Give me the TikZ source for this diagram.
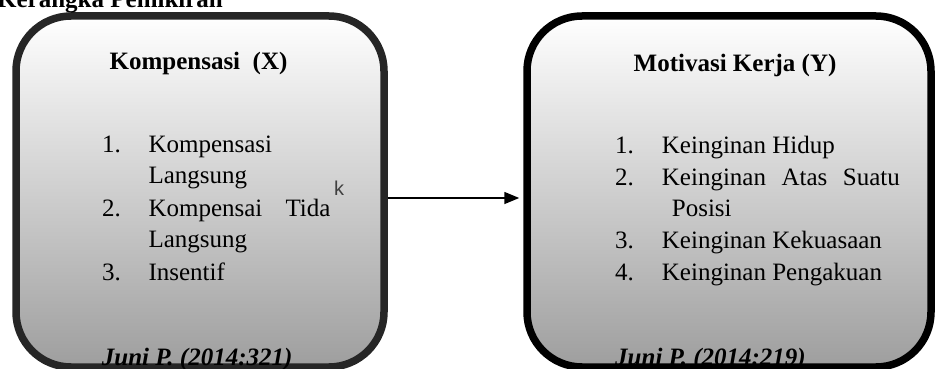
\documentclass[tikz,border=0pt]{standalone}
\usepackage{fontspec}
\setmainfont{Liberation Serif}
\newfontfamily\ksans{Liberation Sans}
\usetikzlibrary{arrows.meta}
\begin{document}
\begin{tikzpicture}[x=1pt,y=-1pt,
  panel/.style={draw=#1, line width=7.5pt, rounded corners=55pt,
    top color=white, bottom color=black!38, minimum height=351pt, inner sep=0pt},
  txt/.style={anchor=base west, inner sep=0pt, font=\fontsize{25}{30}\selectfont},
  ttl/.style={anchor=base, inner sep=0pt, font=\fontsize{25}{30}\selectfont\bfseries},
  cite/.style={anchor=base west, inner sep=0pt, font=\fontsize{25}{30}\selectfont\bfseries\itshape},
  conn/.style={line width=1.5pt, -{Triangle[length=15pt,width=12pt]}, shorten >=4pt}
]
\useasboundingbox (0,0) rectangle (935,369);

\node[panel=black!85, minimum width=368pt] (lbox) at (200,191.5) {};
\node[panel=black, minimum width=404pt] (rbox) at (729,191.5) {};

\node[anchor=base west, inner sep=0pt, font=\fontsize{25}{30}\selectfont\bfseries] (head) at (-3,8) {Kerangka Pemikiran};

% left box
\node[ttl] (lt) at (198.5,70) {Kompensasi \ (X)};
\node[txt] (ln1) at (102,152.7) {1.};
\node[txt] (li1) at (148.3,152.7) {Kompensasi};
\node[txt] (li1b) at (148.3,183.5) {Langsung};
\node[txt] (ln2) at (102,216) {2.};
\node[txt] (li2) at (148.3,216) {\makebox[182pt][s]{Kompensai Tida}};
\node[txt] (li2b) at (148.3,247.5) {Langsung};
\node[txt] (ln3) at (102,280) {3.};
\node[txt] (li3) at (148.3,280) {Insentif};
\node[cite] (lc) at (101.7,365) {Juni P. (2014:321)};
\node[anchor=base west, inner sep=0pt, text=black!75, font=\ksans\fontsize{20}{24}\selectfont] (kk) at (334,195) {k};

% right box
\node[ttl] (rt) at (735,71) {Motivasi Kerja (Y)};
\node[txt] (rn1) at (615,153.3) {1.};
\node[txt] (ri1) at (661.7,153.3) {Keinginan Hidup};
\node[txt] (rn2) at (615,185) {2.};
\node[txt] (ri2) at (661.7,185) {\makebox[238pt][s]{Keinginan Atas Suatu}};
\node[txt] (ri2b) at (671.7,216) {Posisi};
\node[txt] (rn3) at (615,248) {3.};
\node[txt] (ri3) at (661.7,248) {Keinginan Kekuasaan};
\node[txt] (rn4) at (615,280) {4.};
\node[txt] (ri4) at (661.7,280) {Keinginan Pengakuan};
\node[cite] (rc) at (615,365) {Juni P. (2014:219)};

\coordinate (ay) at (0,198);
\draw[conn] (lbox.east |- ay) -- (rbox.west |- ay);
\end{tikzpicture}
\end{document}
